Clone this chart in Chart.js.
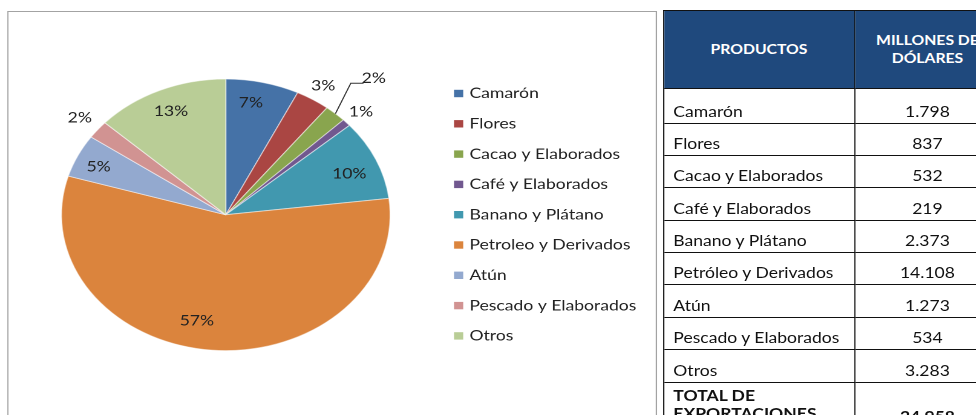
<!DOCTYPE html>
<html>
<head>
<meta charset="utf-8">
<script src="https://cdn.jsdelivr.net/npm/chart.js@4.4.1/dist/chart.umd.min.js"></script>
<style>
    html, body { margin: 0; padding: 0; background: #fff; width: 976px; height: 415px; overflow: hidden; }
    /* the source picture is stretched sideways, so the whole page is laid out narrow and scaled */
    #page {
        position: absolute; left: 0; top: 0; width: 807px; height: 415px;
        transform: scaleX(1.21); transform-origin: 0 0;
        font-family: Lato, 'Open Sans', sans-serif; color: #111;
    }
    #box {
        position: absolute; left: 5.5px; top: 10.5px; width: 537px; height: 440px;
        border: 1.5px solid #a3a3a3; box-sizing: border-box;
    }
    #pieChart { position: absolute; left: 0; top: 0; }
    #exportTable {
        position: absolute; left: 547.5px; top: 9.5px; width: 278.5px;
        border-collapse: separate; border-spacing: 0; table-layout: fixed;
        border-top: 1.5px solid #111; border-left: 1.5px solid #111;
        font-size: 14.5px; line-height: 18px;
    }
    #exportTable td, #exportTable th {
        box-sizing: border-box; border-right: 1.5px solid #111; border-bottom: 1.5px solid #111;
        padding: 0 0 2px 8px; vertical-align: bottom; white-space: nowrap; overflow: hidden;
    }
    #exportTable th {
        background: #1f497d; color: #fff; font-weight: bold; font-size: 13px;
        vertical-align: middle; text-align: center; padding: 0; height: 78px;
    }
    #exportTable td.num { text-align: center; padding-left: 0; }
    #exportTable tr.total td { font-weight: bold; height: 46px; }
    #exportTable tr.total td.name { vertical-align: top; padding-top: 4px; white-space: normal; }
</style>
</head>
<body>
<div id="page">
    <div id="box"></div>
    <canvas id="pieChart" width="546" height="415"></canvas>
    <table id="exportTable">
        <colgroup><col style="width:158.5px"><col style="width:120px"></colgroup>
        <thead></thead>
        <tbody></tbody>
    </table>
</div>
<script>
const categories = ['Camarón', 'Flores', 'Cacao y Elaborados', 'Café y Elaborados', 'Banano y Plátano',
    'Petroleo y Derivados', 'Atún', 'Pescado y Elaborados', 'Otros'];
const tableNames = ['Camarón', 'Flores', 'Cacao y Elaborados', 'Café y Elaborados', 'Banano y Plátano',
    'Petróleo y Derivados', 'Atún', 'Pescado y Elaborados', 'Otros'];
const valuesMillions = [1798, 837, 532, 219, 2373, 14108, 1273, 534, 3283];
const totalExports = 24958;
const tableHeaders = ['PRODUCTOS', 'MILLONES DE<br>DÓLARES'];
const totalLabel = 'TOTAL DE EXPORTACIONES';

const sliceColors = ['#4572a7', '#aa4643', '#89a54e', '#71588f', '#4198af',
    '#db843d', '#93a9cf', '#d19392', '#b9cd96'];

// label placement per slice: radius factor, angle shift (deg)
const labelPlace = [[0.84, -2.5], [1.12, 0], [1.35, 0], [1.12, 0], [0.81, 2.2],
    [0.8, 7.9], [0.85, -1.3], [1.14, 0], [0.83, 0]];
const leaderSlice = 2;
const textColor = '#222';
const labelFont = '14.5px Lato, "Open Sans", sans-serif';

function formatMillions(v) {
    return String(v).replace(/\B(?=(\d{3})+(?!\d))/g, '.');
}

function buildTable() {
    const head = document.querySelector('#exportTable thead');
    head.innerHTML = '<tr>' + tableHeaders.map(h => `<th>${h}</th>`).join('') + '</tr>';
    const body = document.querySelector('#exportTable tbody');
    let rows = '';
    tableNames.forEach((name, i) => {
        const h = i === 0 ? 35 : 32.4;
        rows += `<tr><td style="height:${h}px">${name}</td><td class="num" style="height:${h}px">${formatMillions(valuesMillions[i])}</td></tr>`;
    });
    rows += `<tr class="total"><td class="name">${totalLabel}</td><td class="num">${formatMillions(totalExports)}</td></tr>`;
    body.innerHTML = rows;
}

const sliceLabels = {
    id: 'sliceLabels',
    afterDatasetsDraw(chart) {
        const ctx = chart.ctx;
        const arcs = chart.getDatasetMeta(0).data;
        const data = chart.data.datasets[0].data;
        const sum = data.reduce((a, b) => a + b, 0);
        ctx.save();
        ctx.font = labelFont;
        ctx.fillStyle = textColor;
        ctx.textAlign = 'center';
        ctx.textBaseline = 'middle';
        arcs.forEach((arc, i) => {
            const [f, shift] = labelPlace[i];
            const mid = (arc.startAngle + arc.endAngle) / 2;
            const a = mid + shift * Math.PI / 180;
            const x = arc.x + Math.cos(a) * arc.outerRadius * f;
            const y = arc.y + Math.sin(a) * arc.outerRadius * f;
            if (i === leaderSlice) {
                ctx.strokeStyle = '#333';
                ctx.lineWidth = 1;
                ctx.beginPath();
                ctx.moveTo(arc.x + Math.cos(mid) * arc.outerRadius, arc.y + Math.sin(mid) * arc.outerRadius);
                ctx.lineTo(x - 19, y + 5);
                ctx.lineTo(x - 8.5, y + 5);
                ctx.stroke();
            }
            ctx.fillText(Math.round(data[i] / sum * 100) + '%', x, y);
        });
        ctx.restore();
    }
};

const sideLegend = {
    id: 'sideLegend',
    afterDraw(chart) {
        const ctx = chart.ctx;
        ctx.save();
        ctx.font = labelFont;
        ctx.textBaseline = 'middle';
        ctx.textAlign = 'left';
        chart.data.labels.forEach((label, i) => {
            const y = 93.5 + i * 30.3;
            ctx.fillStyle = chart.data.datasets[0].backgroundColor[i];
            ctx.fillRect(375.2, y - 3.7, 7.6, 7.4);
            ctx.fillStyle = textColor;
            ctx.fillText(label, 388, y);
        });
        ctx.restore();
    }
};

document.addEventListener('DOMContentLoaded', function() {
    buildTable();
    const pieCtx = document.getElementById('pieChart').getContext('2d');
    new Chart(pieCtx, {
        type: 'pie',
        data: {
            labels: categories,
            datasets: [{
                data: valuesMillions,
                backgroundColor: sliceColors,
                borderColor: 'rgba(255,255,255,0.5)',
                borderWidth: 1,
                hoverOffset: 0
            }]
        },
        options: {
            responsive: false,
            animation: false,
            devicePixelRatio: 2,
            events: [],
            layout: { padding: { left: 50.3, right: 223.1, top: 78.5, bottom: 63.9 } },
            plugins: { legend: { display: false }, tooltip: { enabled: false } }
        },
        plugins: [sliceLabels, sideLegend]
    });
});
</script>
</body>
</html>
